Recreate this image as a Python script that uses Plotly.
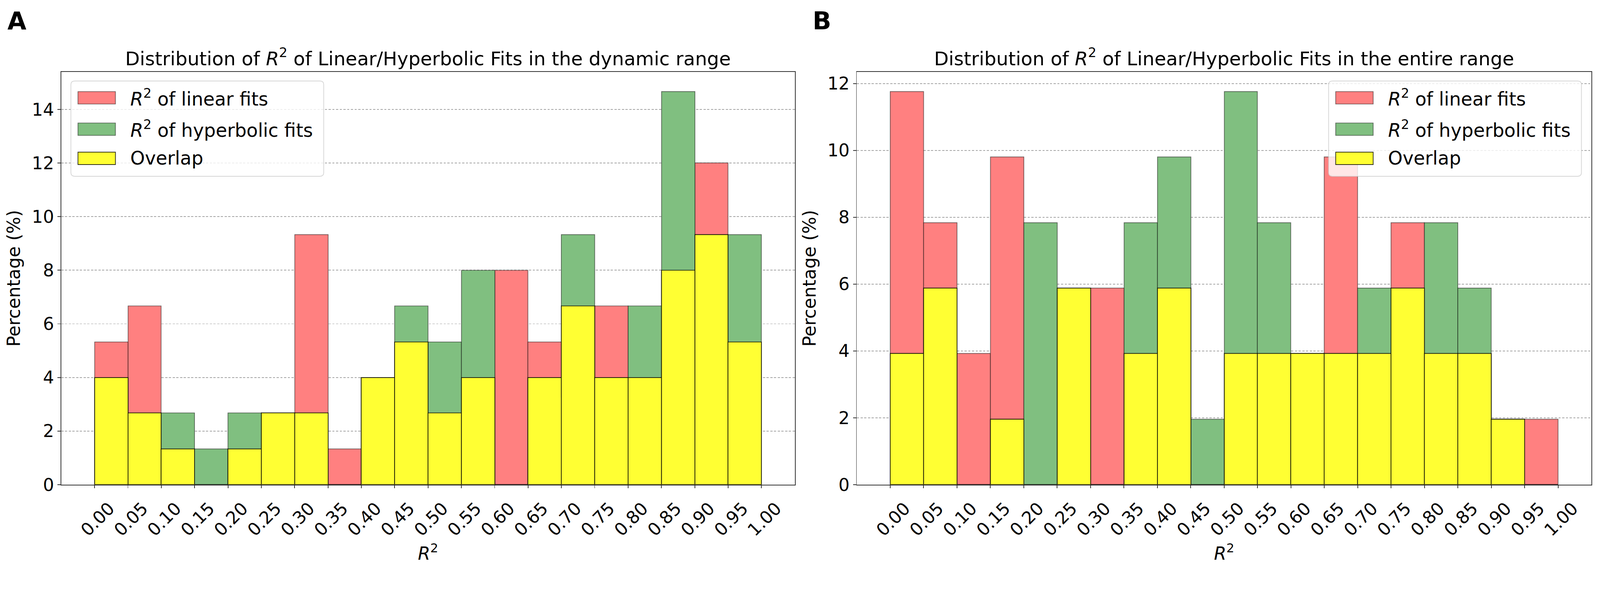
import plotly.graph_objects as go

W, H = 4310, 1535

# ---------------- data (percent per bin) ----------------
bin_edges = [0.00, 0.05, 0.10, 0.15, 0.20, 0.25, 0.30, 0.35, 0.40, 0.45, 0.50,
             0.55, 0.60, 0.65, 0.70, 0.75, 0.80, 0.85, 0.90, 0.95, 1.00]
tick_labels = ["0.00", "0.05", "0.10", "0.15", "0.20", "0.25", "0.30", "0.35", "0.40",
               "0.45", "0.50", "0.55", "0.60", "0.65", "0.70", "0.75", "0.80", "0.85",
               "0.90", "0.95", "1.00"]

# Panel A: dynamic range
a_linear = [5.33, 6.67, 1.33, 0.00, 1.33, 2.67, 9.33, 1.33, 4.00, 5.33,
            2.67, 4.00, 8.00, 5.33, 6.67, 6.67, 4.00, 8.00, 12.00, 5.33]
a_hyperbolic = [4.00, 2.67, 2.67, 1.33, 2.67, 2.67, 2.67, 0.00, 4.00, 6.67,
                5.33, 8.00, 0.00, 4.00, 9.33, 4.00, 6.67, 14.67, 9.33, 9.33]
a_overlap = [4.00, 2.67, 1.33, 0.00, 1.33, 2.67, 2.67, 0.00, 4.00, 5.33,
             2.67, 4.00, 0.00, 4.00, 6.67, 4.00, 4.00, 8.00, 9.33, 5.33]

# Panel B: entire range
b_linear = [11.76, 7.84, 3.92, 9.80, 0.00, 5.88, 5.88, 3.92, 5.88, 0.00,
            3.92, 3.92, 3.92, 9.80, 3.92, 7.84, 3.92, 3.92, 1.96, 1.96]
b_hyperbolic = [3.92, 5.88, 0.00, 1.96, 7.84, 5.88, 0.00, 7.84, 9.80, 1.96,
                11.76, 7.84, 3.92, 3.92, 5.88, 5.88, 7.84, 5.88, 1.96, 0.00]
b_overlap = [3.92, 5.88, 0.00, 1.96, 0.00, 5.88, 0.00, 3.92, 5.88, 0.00,
             3.92, 3.92, 3.92, 3.92, 3.92, 5.88, 3.92, 3.92, 1.96, 0.00]

series_names = ["<i>R</i><sup>2</sup> of linear fits",
                "<i>R</i><sup>2</sup> of hyperbolic fits",
                "Overlap"]
titles = ["Distribution of <i>R</i><sup>2</sup> of Linear/Hyperbolic Fits in the dynamic range",
          "Distribution of <i>R</i><sup>2</sup> of Linear/Hyperbolic Fits in the entire range"]
panel_letters = ["A", "B"]
y_max = [15.4, 12.35]

# ---------------- styling ----------------
FONT = "DejaVu Sans"
RED = "#ff8080"
GREEN = "#80bf80"
YELLOW = "#ffff33"
fills = [RED, GREEN, YELLOW]
edges = ["rgba(0,0,0,0.5)", "rgba(0,0,0,0.5)", "rgba(0,0,0,0.8)"]

def px(x):
    return x / W

def py(y):
    return 1 - y / H

# plot areas in pixels
x_dom_px = [(165, 2141), (2308, 4287)]
y_top_px, y_bot_px = 197, 1328

centers = [(bin_edges[i] + bin_edges[i + 1]) / 2 for i in range(len(bin_edges) - 1)]
widths = [bin_edges[i + 1] - bin_edges[i] for i in range(len(bin_edges) - 1)]

fig = go.Figure()
panels = [(a_linear, a_hyperbolic, a_overlap), (b_linear, b_hyperbolic, b_overlap)]
for p, data in enumerate(panels):
    xa = "x" if p == 0 else "x2"
    ya = "y" if p == 0 else "y2"
    for s, vals in enumerate(data):
        fig.add_trace(go.Bar(
            x=centers, y=vals, width=widths, name=series_names[s],
            marker=dict(color=fills[s], line=dict(color=edges[s], width=2)),
            xaxis=xa, yaxis=ya, showlegend=False, hoverinfo="skip"))

axis_common = dict(
    showline=True, mirror=True, linecolor="#333333", linewidth=2,
    ticks="outside", ticklen=8, tickwidth=2, tickcolor="#333333",
    tickfont=dict(family=FONT, size=47, color="black"),
    zeroline=False,
)

for p in range(2):
    xd = [px(x_dom_px[p][0]), px(x_dom_px[p][1])]
    xkey = "xaxis" if p == 0 else "xaxis2"
    ykey = "yaxis" if p == 0 else "yaxis2"
    fig.update_layout(**{
        xkey: dict(axis_common, domain=xd, range=[-0.05, 1.05],
                   anchor="y" if p == 0 else "y2",
                   tickmode="array", tickvals=bin_edges, ticktext=tick_labels,
                   tickangle=-45, ticklabelshift=40, ticklabelstandoff=8, showgrid=False,
                   title=dict(text="<i>R</i><sup>2</sup>", standoff=20,
                              font=dict(family=FONT, size=48, color="black"))),
        ykey: dict(axis_common, domain=[py(y_bot_px), py(y_top_px)],
                   range=[0, y_max[p]], anchor="x" if p == 0 else "x2",
                   dtick=2, tick0=0, showgrid=True, gridcolor="rgba(128,128,128,0.7)",
                   gridwidth=1.5, griddash="6px,4px",
                   title=dict(text="Percentage (%)", standoff=16,
                              font=dict(family=FONT, size=48, color="black"))),
    })

annotations = []
shapes = []
for p in range(2):
    cx = (x_dom_px[p][0] + x_dom_px[p][1]) / 2
    annotations.append(dict(text=titles[p], x=px(cx), y=py(192), xref="paper", yref="paper",
                            xanchor="center", yanchor="bottom", showarrow=False,
                            font=dict(family=FONT, size=51, color="black")))
letter_x = [18, 2187]
for p in range(2):
    annotations.append(dict(text="<b>%s</b>" % panel_letters[p], x=px(letter_x[p]), y=py(16),
                            xref="paper", yref="paper", xanchor="left", yanchor="top",
                            showarrow=False, font=dict(family=FONT, size=66, color="black")))

# custom legends (matplotlib-like)
legend_boxes = [(191, 872), (3579, 4260)]
leg_top, leg_bot = 222, 483
row_centers = [268, 354, 434]
for p in range(2):
    x0, x1 = legend_boxes[p]
    r = 10
    path = ("M {a},{b} L {c},{b} Q {x1},{b} {x1},{d} L {x1},{e} Q {x1},{y1} {c},{y1} "
            "L {a},{y1} Q {x0},{y1} {x0},{e} L {x0},{d} Q {x0},{b} {a},{b} Z").format(
        a=px(x0 + r), b=py(leg_top), c=px(x1 - r), d=py(leg_top + r), e=py(leg_bot - r),
        x0=px(x0), x1=px(x1), y1=py(leg_bot))
    shapes.append(dict(type="path", path=path, xref="paper", yref="paper",
                       fillcolor="rgba(255,255,255,0.8)",
                       line=dict(color="rgba(204,204,204,0.8)", width=2), layer="above"))
    for s in range(3):
        shapes.append(dict(type="rect", xref="paper", yref="paper",
                           x0=px(x0 + 19), x1=px(x0 + 120),
                           y0=py(row_centers[s] + 17), y1=py(row_centers[s] - 17),
                           fillcolor=fills[s], line=dict(color=edges[s], width=2),
                           layer="above"))
        annotations.append(dict(text=series_names[s], x=px(x0 + 158), y=py(row_centers[s]),
                                xref="paper", yref="paper", xanchor="left", yanchor="middle",
                                showarrow=False,
                                font=dict(family=FONT, size=50, color="black")))

fig.update_layout(
    width=W, height=H, barmode="overlay", bargap=0,
    margin=dict(l=0, r=0, t=0, b=0),
    paper_bgcolor="white", plot_bgcolor="white",
    font=dict(family=FONT, size=48, color="black"),
    annotations=annotations, shapes=shapes, showlegend=False,
)

# fit the fixed-size figure to the actual browser viewport
fit_script = (
    "(function(){"
    "var gd=document.getElementById('{plot_id}');"
    "document.documentElement.style.margin='0';document.body.style.margin='0';"
    "document.documentElement.style.overflow='hidden';document.body.style.overflow='hidden';"
    "var s=Math.min(window.innerWidth/" + str(W) + ",window.innerHeight/" + str(H) + ");"
    "gd.style.transformOrigin='0 0';gd.style.transform='scale('+s+')';"
    "})();"
)

fig.write_html("out.html", post_script=fit_script, config={"displayModeBar": False})
